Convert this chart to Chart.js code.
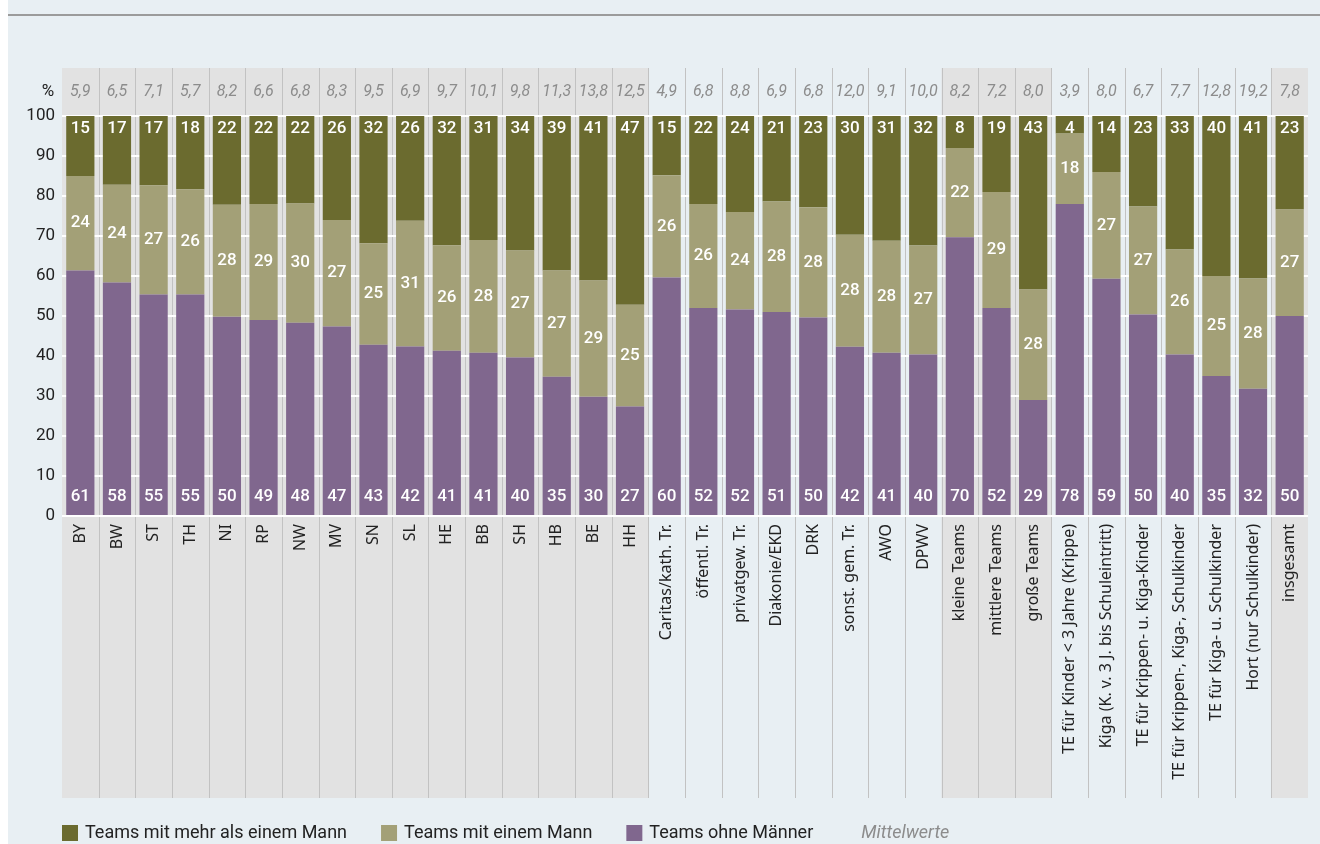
<!DOCTYPE html>
<html lang="de">
<head>
<meta charset="utf-8">
<title>Teams mit und ohne Männer</title>
<script src="https://cdn.jsdelivr.net/npm/chart.js@4.4.1/dist/chart.umd.min.js"></script>
<style>
html, body { margin: 0; padding: 0; background: #ffffff; }
#chart { display: block; }
</style>
</head>
<body>
<canvas id="chart" width="1320" height="844"></canvas>
<script>
var kategorien = ["BY", "BW", "ST", "TH", "NI", "RP", "NW", "MV", "SN", "SL", "HE", "BB", "SH", "HB", "BE", "HH",
    "Caritas/kath. Tr.", "öffentl. Tr.", "privatgew. Tr.", "Diakonie/EKD", "DRK", "sonst. gem. Tr.", "AWO", "DPWV",
    "kleine Teams", "mittlere Teams", "große Teams",
    "TE für Kinder < 3 Jahre (Krippe)", "Kiga (K. v. 3 J. bis Schuleintritt)", "TE für Krippen- u. Kiga-Kinder",
    "TE für Krippen-, Kiga-, Schulkinder", "TE für Kiga- u. Schulkinder", "Hort (nur Schulkinder)",
    "insgesamt"]

// Anteile in %, von unten nach oben gestapelt
var ohneMaenner = [61.4, 58.4, 55.4, 55.4, 49.8, 49.0, 48.3, 47.4, 42.8, 42.4, 41.3, 40.8, 39.6, 34.8, 29.8, 27.4,
    59.6, 52.0, 51.6, 51.0, 49.6, 42.3, 40.8, 40.4,
    69.7, 52.0, 29.0,
    78.0, 59.3, 50.4, 40.4, 35.0, 31.8,
    50.0]
var einMann = [23.6, 24.4, 27.3, 26.3, 28.0, 29.0, 29.8, 26.6, 25.4, 31.4, 26.4, 28.2, 26.8, 26.6, 29.1, 25.4,
    25.6, 26.0, 24.4, 27.6, 27.6, 28.0, 28.0, 27.2,
    22.3, 29.0, 27.6,
    17.6, 26.7, 27.0, 26.2, 25.0, 27.6,
    26.6]
var mehrMaenner = [15.0, 17.2, 17.3, 18.3, 22.2, 22.0, 21.9, 26.0, 31.8, 26.2, 32.3, 31.0, 33.6, 38.6, 41.1, 47.2,
    14.8, 22.0, 24.0, 21.4, 22.8, 29.7, 31.2, 32.4,
    8.0, 19.0, 43.4,
    4.4, 14.0, 22.6, 33.4, 40.0, 40.6,
    23.4]
var mittelwerte = [5.9, 6.5, 7.1, 5.7, 8.2, 6.6, 6.8, 8.3, 9.5, 6.9, 9.7, 10.1, 9.8, 11.3, 13.8, 12.5,
    4.9, 6.8, 8.8, 6.9, 6.8, 12.0, 9.1, 10.0,
    8.2, 7.2, 8.0,
    3.9, 8.0, 6.7, 7.7, 12.8, 19.2,
    7.8]
// Spaltengruppen: Länder, Träger, Teamgröße, Einrichtungsart, gesamt
var gruppen = [16, 8, 3, 6, 1]
var yMax = 100
var yStep = 10

var farben = { mehr: "#6b6b2f", einem: "#a3a077", ohne: "#80678e" }
var schrift = "Roboto, 'Noto Sans', sans-serif"

Chart.defaults.font.family = schrift
Chart.defaults.color = "#222222"

function komma(v) {
    return v.toFixed(1).replace(".", ",")
}

const hintergrund = {
    id: "hintergrund",
    beforeDraw(chart) {
        const ctx = chart.ctx
        const area = chart.chartArea
        const x = chart.scales.x
        const breite = (area.right - area.left) / kategorien.length
        const oben = area.top - 48
        const unten = x.bottom
        ctx.save()
        ctx.fillStyle = "#e8eff3"
        ctx.fillRect(8, 0, chart.width - 8, chart.height)
        ctx.strokeStyle = "#9b9b9b"
        ctx.lineWidth = 2
        ctx.beginPath()
        ctx.moveTo(8, 15)
        ctx.lineTo(chart.width, 15)
        ctx.stroke()

        let start = 0
        gruppen.forEach((anzahl, i) => {
            if (i % 2 == 0) {
                ctx.fillStyle = "#e2e2e2"
                ctx.fillRect(x.getPixelForValue(start) - breite / 2, oben, anzahl * breite, unten - oben)
            }
            start += anzahl
        })
        ctx.strokeStyle = "#c2c2c2"
        ctx.lineWidth = 1
        for (let i = 1; i < kategorien.length; i++) {
            const px = Math.round(x.getPixelForValue(i) - breite / 2) + 0.5
            ctx.beginPath()
            ctx.moveTo(px, oben)
            ctx.lineTo(px, unten)
            ctx.stroke()
        }
        ctx.restore()
    }
}

const beschriftung = {
    id: "beschriftung",
    afterDatasetsDraw(chart) {
        const ctx = chart.ctx
        const area = chart.chartArea
        ctx.save()
        ctx.textAlign = "center"
        ctx.textBaseline = "middle"
        ctx.fillStyle = "#ffffff"
        ctx.font = "500 17px " + schrift
        chart.data.datasets.forEach((ds, d) => {
            chart.getDatasetMeta(d).data.forEach((bar, i) => {
                let y = (bar.y + bar.base) / 2
                if (d == 0) y = bar.base - 18
                if (d == 2) y = bar.y + 13
                ctx.fillText(Math.round(ds.data[i]), bar.x, y)
            })
        })

        // Mittelwerte über den Säulen
        ctx.fillStyle = "#8c8c8c"
        ctx.font = "italic 16px " + schrift
        mittelwerte.forEach((m, i) => {
            ctx.fillText(komma(m), chart.scales.x.getPixelForValue(i), area.top - 24)
        })
        ctx.fillStyle = "#222222"
        ctx.font = "17px " + schrift
        ctx.fillText("%", area.left - 14, area.top - 24)

        // Legende
        const eintraege = [
            ["Teams mit mehr als einem Mann", farben.mehr],
            ["Teams mit einem Mann", farben.einem],
            ["Teams ohne Männer", farben.ohne]
        ]
        let lx = area.left
        const ly = 833
        ctx.textAlign = "left"
        ctx.font = "18px " + schrift
        eintraege.forEach(e => {
            ctx.fillStyle = e[1]
            ctx.fillRect(lx, ly - 8, 16, 16)
            ctx.fillStyle = "#222222"
            ctx.fillText(e[0], lx + 23, ly)
            lx += 23 + ctx.measureText(e[0]).width + 34
        })
        ctx.fillStyle = "#8c8c8c"
        ctx.font = "italic 18px " + schrift
        ctx.fillText("Mittelwerte", lx + 14, ly)
        ctx.restore()
    }
}

new Chart(document.querySelector("#chart"), {
    type: "bar",
    data: {
        labels: kategorien,
        datasets: [
            { label: "Teams ohne Männer", data: ohneMaenner, backgroundColor: farben.ohne },
            { label: "Teams mit einem Mann", data: einMann, backgroundColor: farben.einem },
            { label: "Teams mit mehr als einem Mann", data: mehrMaenner, backgroundColor: farben.mehr }
        ]
    },
    options: {
        responsive: false,
        animation: false,
        devicePixelRatio: 1,
        layout: { padding: { left: 0, right: 12, top: 116, bottom: 46 } },
        datasets: { bar: { barPercentage: 0.77, categoryPercentage: 1, borderWidth: 0 } },
        plugins: { legend: { display: false }, tooltip: { enabled: false } },
        scales: {
            x: {
                stacked: true,
                grid: { display: false, drawTicks: false },
                border: { display: false },
                ticks: {
                    autoSkip: false, minRotation: 90, maxRotation: 90, padding: 8,
                    font: { family: "'Noto Sans', sans-serif", size: 16 }, color: "#222222"
                },
                afterFit(scale) { scale.height = 282 }
            },
            y: {
                stacked: true,
                min: 0,
                max: yMax,
                grid: { color: "#ffffff", lineWidth: 2, drawTicks: false },
                border: { display: false },
                ticks: { stepSize: yStep, padding: 7, font: { size: 17 }, color: "#222222" },
                afterFit(scale) { scale.width = 62 }
            }
        }
    },
    plugins: [hintergrund, beschriftung]
})
</script>
</body>
</html>
